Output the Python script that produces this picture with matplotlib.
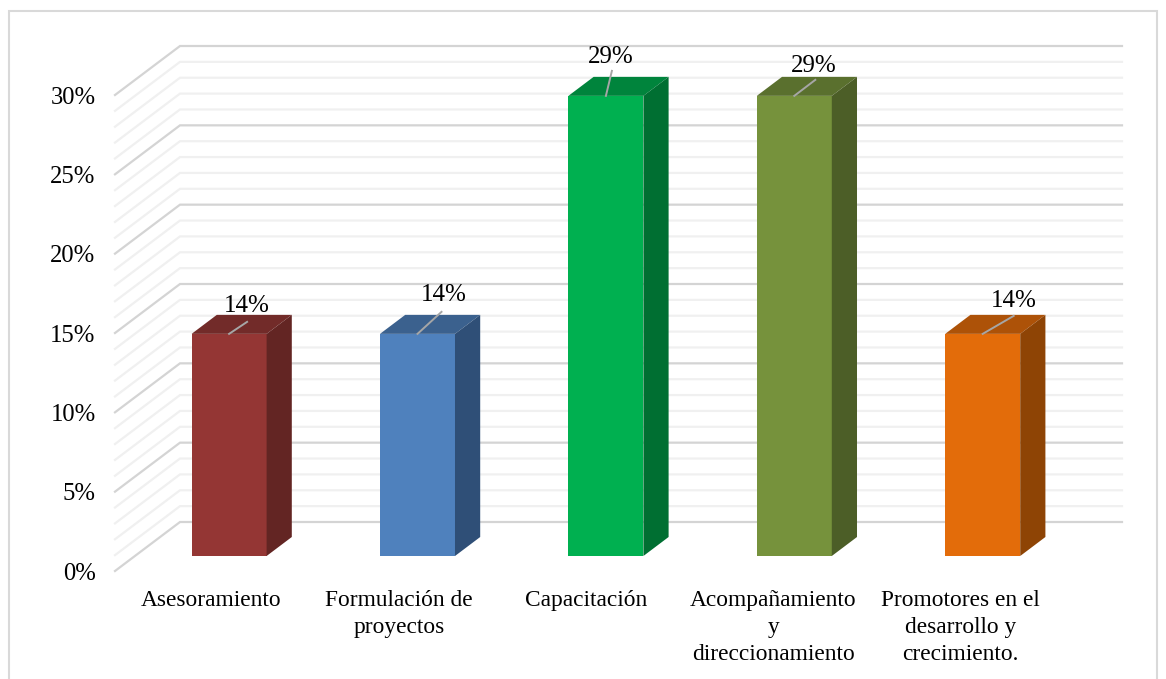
import numpy as np
import matplotlib
matplotlib.use("Agg")
import matplotlib.pyplot as plt
from matplotlib.patches import Polygon, Rectangle

plt.rcParams['font.family'] = ['Liberation Serif', 'DejaVu Serif']

categories = ["Asesoramiento", "Formulación de\nproyectos", "Capacitación",
              "Acompañamiento\ny\ndireccionamiento",
              "Promotores en el\ndesarrollo y\ncrecimiento."]
values = [14, 14, 29, 29, 14]
value_labels = ["14%", "14%", "29%", "29%", "14%"]
y_ticks = [0, 5, 10, 15, 20, 25, 30]

front_colors = ["#943634", "#4F81BD", "#00B050", "#76923C", "#E36C0A"]
top_colors = ["#722B29", "#3B618E", "#00843C", "#5A702E", "#AD5208"]
side_colors = ["#632523", "#2F4F77", "#006F32", "#4C5E27", "#8E4405"]

# leader end and label centre, pixels away from the top centre of the bar front
leader_ends = [(18, 12), (24, 22), (6, 25), (21, 16), (31, 18)]
label_centres = [(18, 28), (26, 39), (5, 39), (19, 30), (31, 33)]

W, H = 1166, 679
px_left, px_right, px_bottom, px_top = 115, 1057, 571, 95

fig = plt.figure(figsize=(W / 100, H / 100), dpi=100)
ax = fig.add_axes([px_left / W, 1 - px_bottom / H, (px_right - px_left) / W, (px_bottom - px_top) / H])
ax.set_xlim(-0.5, 4.5)
ax.set_ylim(0, 30)

px_x = (px_right - px_left) / 5  # pixels per category
px_y = (px_bottom - px_top) / 30  # pixels per percent
depth_x = 65 / px_x
depth_y = 49 / px_y


def proj(x, v, d):
    return (x + d * depth_x, v + d * depth_y)


# floor, wall and back grid lines
for v in range(0, 31):
    major = v % 5 == 0
    pts = [proj(-0.5, v, 0), proj(-0.5, v, 1), proj(4.5, v, 1)]
    ax.plot([p[0] for p in pts], [p[1] for p in pts], clip_on=False,
            color="#D4D4D4" if major else "#F0F0F0", lw=1.6, zorder=1,
            solid_joinstyle="miter")

bar_w = 75 / px_x
d_front = 15 / 49
d_back = 34 / 49

for i, v in enumerate(values):
    x0 = i - bar_w / 2
    x1 = i + bar_w / 2
    ox, oy = proj(x0, 0, d_front)
    ax.add_patch(Rectangle((ox, oy), bar_w, v, facecolor=front_colors[i],
                           edgecolor="none", clip_on=False, zorder=3))
    ax.add_patch(Polygon([proj(x0, v, d_front), proj(x1, v, d_front),
                          proj(x1, v, d_back), proj(x0, v, d_back)],
                         facecolor=top_colors[i], edgecolor="none", clip_on=False, zorder=3))
    ax.add_patch(Polygon([proj(x1, 0, d_front), proj(x1, 0, d_back),
                          proj(x1, v, d_back), proj(x1, v, d_front)],
                         facecolor=side_colors[i], edgecolor="none", clip_on=False, zorder=3))

    cx, cy = proj(i, v, d_front)
    lx, ly = leader_ends[i]
    ax.plot([cx, cx + lx / px_x], [cy, cy + ly / px_y], color="#A6A6A6", lw=1.4,
            clip_on=False, zorder=4)
    tx, ty = label_centres[i]
    ax.text(cx + tx / px_x, cy + ty / px_y, value_labels[i], ha="center", va="center",
            fontsize=18, color="black", zorder=5)

ax.set_yticks(y_ticks)
ax.set_yticklabels([f"{t}%" for t in y_ticks], fontsize=17.7)
# the labels sit slightly tighter than the category slots
ax.set_xticks([(2.3 + i * 187.3) / px_x for i in range(5)])
ax.set_xticklabels(categories, fontsize=16.8, linespacing=1.38, ha="center", va="top")
ax.tick_params(axis="both", length=0, labelcolor="black")
ax.tick_params(axis="y", pad=14)
ax.tick_params(axis="x", pad=13.5)
for s in ax.spines.values():
    s.set_visible(False)
ax.patch.set_visible(False)

# outer chart frame
fig.add_artist(Rectangle((9 / W, -0.01), (1157 - 9) / W, 1.01 - 11 / H, transform=fig.transFigure,
                         facecolor="none", edgecolor="#D9D9D9", lw=1.5))

fig.savefig("out.png", dpi=100, facecolor="white")
